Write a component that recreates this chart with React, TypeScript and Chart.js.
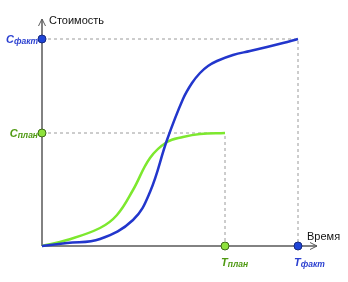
import { useEffect, useRef } from "react";
import { Chart, registerables } from "chart.js";
Chart.register(...registerables);

const timeFact = [0, 25, 58, 91, 108, 125, 141, 150, 158, 166, 175, 191, 208, 225, 241, 256];
const costFact = [0, 3, 7, 26, 54, 106, 147, 163, 173, 180, 185, 191, 195, 199, 203, 207];
const timePlan = [0, 25, 58, 75, 91, 108, 125, 141, 158, 183];
const costPlan = [0, 6, 18, 31, 56, 88, 104, 109, 112, 113];
const T_PLAN = 183;
const T_FACT = 256;
const C_PLAN = 113;
const C_FACT = 207;
const X_MAX = 275;
const Y_MAX = 227;

const BLUE = "#2236cc";
const GREEN = "#7de82e";
const GREEN_TEXT = "#4f9a12";
const BLUE_TEXT = "#2a3fd0";

const pts = (xs: number[], ys: number[]) => xs.map((x, i) => ({ x, y: ys[i] }));

function drawSub(ctx: CanvasRenderingContext2D, x: number, y: number, main: string, sub: string, color: string, align: "left" | "right") {
  ctx.save();
  ctx.fillStyle = color;
  ctx.textBaseline = "alphabetic";
  ctx.textAlign = "left";
  const f1 = "bold italic 11px 'Liberation Sans'";
  const f2 = "bold italic 8.5px 'Liberation Sans'";
  ctx.font = f1;
  const w1 = ctx.measureText(main).width;
  ctx.font = f2;
  const w2 = ctx.measureText(sub).width;
  const x0 = align === "right" ? x - w1 - w2 : x;
  ctx.font = f1;
  ctx.fillText(main, x0, y + 4);
  ctx.font = f2;
  ctx.fillText(sub, x0 + w1, y + 4.5);
  ctx.restore();
}

const decor = {
  id: "decor",
  beforeDatasetsDraw(chart: any) {
    const ctx: CanvasRenderingContext2D = chart.ctx;
    const xs = chart.scales.x;
    const ys = chart.scales.y;
    const ox = xs.getPixelForValue(0);
    const oy = ys.getPixelForValue(0);
    const xe = xs.getPixelForValue(X_MAX);
    const ye = ys.getPixelForValue(Y_MAX);
    ctx.save();
    ctx.strokeStyle = "#5a5a5a";
    ctx.lineWidth = 1.5;
    ctx.beginPath();
    ctx.moveTo(ox, oy);
    ctx.lineTo(xe, oy);
    ctx.moveTo(ox, oy);
    ctx.lineTo(ox, ye);
    ctx.stroke();
    ctx.lineWidth = 1;
    ctx.beginPath();
    ctx.moveTo(xe - 7, oy - 3.5);
    ctx.lineTo(xe, oy);
    ctx.lineTo(xe - 7, oy + 3.5);
    ctx.moveTo(ox - 3.5, ye + 7);
    ctx.lineTo(ox, ye);
    ctx.lineTo(ox + 3.5, ye + 7);
    ctx.stroke();
    ctx.restore();
  },
  afterDatasetsDraw(chart: any) {
    const ctx: CanvasRenderingContext2D = chart.ctx;
    const xs = chart.scales.x;
    const ys = chart.scales.y;
    const ox = xs.getPixelForValue(0);
    const oy = ys.getPixelForValue(0);
    const xe = xs.getPixelForValue(X_MAX);
    const ye = ys.getPixelForValue(Y_MAX);
    ctx.save();
    ctx.fillStyle = "#111";
    ctx.font = "11px 'Liberation Sans'";
    ctx.textBaseline = "middle";
    ctx.textAlign = "left";
    ctx.fillText("Стоимость", ox + 7, ye + 2);
    ctx.fillText("Время", xe - 10, oy - 9);
    ctx.restore();
    drawSub(ctx, ox - 4, ys.getPixelForValue(C_FACT), "С", "факт", BLUE_TEXT, "right");
    drawSub(ctx, ox - 4, ys.getPixelForValue(C_PLAN), "С", "план", GREEN_TEXT, "right");
    drawSub(ctx, xs.getPixelForValue(T_PLAN) - 4, oy + 16, "Т", "план", GREEN_TEXT, "left");
    drawSub(ctx, xs.getPixelForValue(T_FACT) - 4, oy + 16, "Т", "факт", BLUE_TEXT, "left");
  },
};

export default function App() {
  const ref = useRef<HTMLCanvasElement>(null);
  useEffect(() => {
    const guide = {
      type: "line" as const,
      borderColor: "#9a9a9a",
      borderWidth: 1,
      borderDash: [3, 3],
      pointRadius: 0,
      tension: 0,
      fill: false,
      order: 3,
    };
    const chart = new Chart(ref.current!, {
      type: "line",
      data: {
        datasets: [
          { ...guide, data: [{ x: 0, y: C_FACT }, { x: T_FACT, y: C_FACT }, { x: T_FACT, y: 0 }] },
          { ...guide, data: [{ x: 0, y: C_PLAN }, { x: T_PLAN, y: C_PLAN }, { x: T_PLAN, y: 0 }] },
          {
            data: pts(timePlan, costPlan),
            borderColor: GREEN,
            borderWidth: 2.5,
            pointRadius: 0,
            tension: 0.4,
            fill: false,
            order: 2,
          },
          {
            data: pts(timeFact, costFact),
            borderColor: BLUE,
            borderWidth: 2.5,
            pointRadius: 0,
            tension: 0.4,
            fill: false,
            order: 1,
          },
          {
            data: [{ x: 0, y: C_PLAN }, { x: T_PLAN, y: 0 }],
            showLine: false,
            pointRadius: 4,
            pointBackgroundColor: "#8ee23c",
            pointBorderColor: "#3d6a18",
            pointBorderWidth: 1,
            order: 0,
          },
          {
            data: [{ x: 0, y: C_FACT }, { x: T_FACT, y: 0 }],
            showLine: false,
            pointRadius: 4,
            pointBackgroundColor: "#1f45d8",
            pointBorderColor: "#182a80",
            pointBorderWidth: 1,
            order: 0,
          },
        ] as any,
      },
      options: {
        animation: false,
        responsive: false,
        clip: false as any,
        layout: { padding: { left: 42, right: 31, top: 19, bottom: 36 } },
        plugins: { legend: { display: false }, tooltip: { enabled: false } },
        scales: {
          x: { type: "linear", min: 0, max: X_MAX, display: false },
          y: { type: "linear", min: 0, max: Y_MAX, display: false },
        },
      },
      plugins: [decor],
    });
    return () => chart.destroy();
  }, []);
  return (
    <div style={{ position: "fixed", left: 0, top: 0, width: 348, height: 282, background: "#fff" }}>
      <canvas ref={ref} width={348} height={282} style={{ display: "block" }} />
    </div>
  );
}
